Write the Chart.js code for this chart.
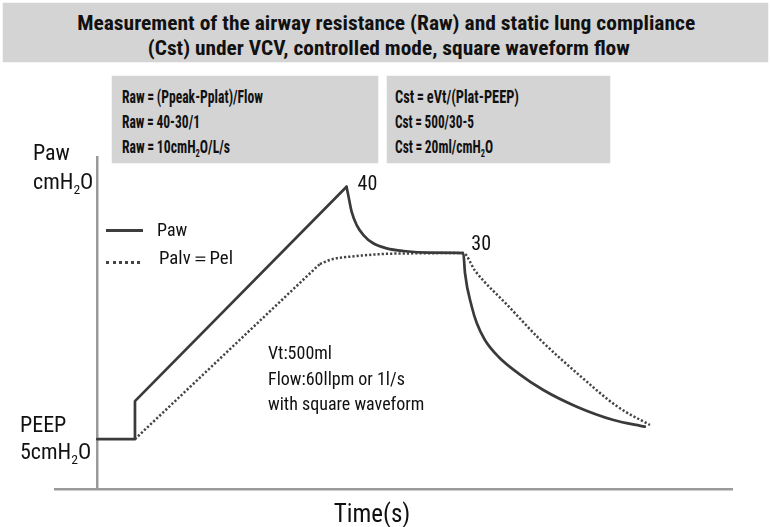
<!DOCTYPE html>
<html><head><meta charset="utf-8">
<script src="https://cdn.jsdelivr.net/npm/chart.js@4.4.1/dist/chart.umd.min.js"></script>
<style>
html,body{margin:0;padding:0;background:#fff;}
#wrap{position:relative;width:771px;height:527px;overflow:hidden;font-family:"Liberation Sans Narrow","Roboto Condensed","DejaVu Sans Condensed",Roboto,sans-serif;color:#111;}
#c{position:absolute;left:0;top:0;}
.t{position:absolute;white-space:nowrap;line-height:1;}
.b{font-weight:bold;}
.box{position:absolute;background:#d4d4d4;box-shadow:0 0 1px #bbb;}
sub{font-size:62%;vertical-align:-0.35em;line-height:0;}
.leg{position:absolute;height:0;}
</style></head>
<body><div id="wrap">
<div class="box" style="left:3px;top:3px;width:765px;height:59px;"></div>
<div class="t b fit" data-w="618" data-c="386" style="top:13px;font-size:21px;">Measurement of the airway resistance (Raw) and static lung compliance</div>
<div class="t b fit" data-w="482" data-c="389" style="top:38px;font-size:21px;">(Cst) under VCV, controlled mode, square waveform flow</div>
<div class="box" style="left:112px;top:76px;width:266px;height:87px;"></div>
<div class="box" style="left:387px;top:76px;width:223px;height:87px;"></div>
<div class="t b fit" data-w="141" style="left:122px;top:87px;font-size:19px;">Raw&#8201;=&#8201;(Ppeak-Pplat)/Flow</div>
<div class="t b fit" data-w="78" style="left:122px;top:112px;font-size:19px;">Raw&#8201;=&#8201;40-30/1</div>
<div class="t b fit" data-w="108" style="left:122px;top:137px;font-size:19px;">Raw&#8201;=&#8201;10cmH<sub>2</sub>O/L/s</div>
<div class="t b fit" data-w="124" style="left:395px;top:87px;font-size:19px;">Cst&#8201;=&#8201;eVt/(Plat-PEEP)</div>
<div class="t b fit" data-w="79" style="left:395px;top:112px;font-size:19px;">Cst&#8201;=&#8201;500/30-5</div>
<div class="t b fit" data-w="98" style="left:395px;top:137px;font-size:19px;">Cst&#8201;=&#8201;20ml/cmH<sub>2</sub>O</div>
<canvas id="c" width="771" height="527"></canvas>
<div class="t" style="left:33px;top:142px;font-size:22px;">Paw</div>
<div class="t" style="left:33px;top:171px;font-size:22px;">cmH<sub>2</sub>O</div>
<div class="t" style="left:20px;top:414px;font-size:22px;">PEEP</div>
<div class="t" style="left:20px;top:441px;font-size:22px;">5cmH<sub>2</sub>O</div>
<div class="t" style="left:0;width:744px;top:501px;text-align:center;font-size:25px;">Time(s)</div>
<div class="leg" style="left:106px;top:229px;width:37px;border-top:3px solid #3d3d3d;"></div>
<div class="leg" style="left:106px;top:261px;width:34px;border-top:3px dotted #444;"></div>
<div class="t" id="leg1" style="left:157px;top:221px;font-size:18px;"></div>
<div class="t fit" id="leg2" data-w="74" style="left:159px;top:249px;font-size:18px;"></div>
<div class="t" style="left:268px;top:340px;font-size:18px;line-height:25.5px;">Vt:500ml<br>Flow:60llpm or 1l/s<br>with square waveform</div>
</div>
<script>
// Series names
const seriesNames = ["Paw", "Palv＝Pel"];
// Airway pressure (Paw): time in s, pressure in cmH2O
const pawTime   = [0, 0.089, 0.089, 0.589, 0.593, 0.601, 0.613, 0.629, 0.652, 0.684, 0.723, 0.786, 0.865,
                   0.869, 0.885, 0.897, 0.916, 0.948, 0.995, 1.054, 1.133, 1.22, 1.294];
const pawValues = [5, 5, 10.1, 38.9, 37.8, 35.55, 33.76, 32.42, 31.31, 30.63, 30.27, 30.05, 30,
                   27.28, 22.79, 20.56, 18.32, 16.07, 13.84, 11.6, 9.36, 7.57, 6.67];
// Alveolar pressure (Palv = Pel)
const palvTime   = [0.089, 0.526, 0.557, 0.597, 0.675, 0.755, 0.865, 0.893, 0.971, 1.046, 1.137, 1.231, 1.306];
const palvValues = [5, 28.53, 29.2, 29.51, 29.87, 29.96, 30, 27.6, 22.9, 18.4, 13.7, 9.3, 6.9];
// Point labels
const peakLabel = "40";
const plateauLabel = "30";

document.getElementById('leg1').textContent = seriesNames[0];
document.getElementById('leg2').textContent = seriesNames[1];

// fit text widths
document.querySelectorAll('.fit').forEach(el => {
  const w = el.getBoundingClientRect().width;
  const target = +el.dataset.w;
  const s = target / w;
  if (el.dataset.c) {
    el.style.left = (+el.dataset.c - w / 2) + 'px';
    el.style.transformOrigin = '50% 50%';
  } else {
    el.style.transformOrigin = '0 50%';
  }
  el.style.transform = 'scaleX(' + s.toFixed(4) + ')';
});

const toPts = (t, v, a, b) => t.slice(a, b).map((x, i) => ({x: x, y: v[a + i]}));
const FONT = '"Liberation Sans Narrow","Roboto Condensed","DejaVu Sans Condensed",Roboto,sans-serif';
const pk = pawValues.indexOf(Math.max(...pawValues));
const pl = pawValues.indexOf(30);
const pvk = 1; // end of straight rise of Palv

const labelPlugin = {
  id: 'pointLabels',
  afterDatasetsDraw(chart) {
    const ctx = chart.ctx, xs = chart.scales.x, ys = chart.scales.y;
    ctx.save();
    ctx.fillStyle = '#111';
    ctx.font = '20px ' + FONT;
    ctx.textBaseline = 'middle';
    ctx.fillText(peakLabel, xs.getPixelForValue(pawTime[pk]) + 11, ys.getPixelForValue(pawValues[pk]) - 2);
    ctx.fillText(plateauLabel, xs.getPixelForValue(pawTime[pl]) + 8, ys.getPixelForValue(pawValues[pl]) - 8);
    ctx.restore();
  }
};

const solid = {borderColor: '#3a3a3a', borderWidth: 2.7, pointRadius: 0, borderJoinStyle: 'round', borderCapStyle: 'round'};
const dotted = {borderColor: '#444', borderWidth: 2.5, borderDash: [2.2, 2], pointRadius: 0};

new Chart(document.getElementById('c'), {
  type: 'line',
  data: {
    datasets: [
      Object.assign({label: seriesNames[0], data: toPts(pawTime, pawValues, 0, pk + 1), tension: 0}, solid),
      Object.assign({label: seriesNames[0], data: toPts(pawTime, pawValues, pk, pawTime.length), cubicInterpolationMode: 'monotone'}, solid),
      Object.assign({label: seriesNames[1], data: toPts(palvTime, palvValues, 0, pvk + 1), tension: 0}, dotted),
      Object.assign({label: seriesNames[1], data: toPts(palvTime, palvValues, pvk, palvTime.length), cubicInterpolationMode: 'monotone'}, dotted)
    ]
  },
  options: {
    responsive: false, animation: false, devicePixelRatio: 1,
    layout: {padding: {left: 55, right: 39, top: 157, bottom: 38}},
    plugins: {legend: {display: false}, tooltip: {enabled: false}},
    scales: {
      x: {type: 'linear', min: -0.1, max: 1.5, grid: {display: false}, ticks: {display: false},
          border: {display: true, color: '#9a9a9a', width: 2.5},
          afterFit: s => { s.height = 0; }},
      y: {type: 'linear', min: -1.7, max: 42.9, position: {x: 0}, grid: {display: false}, ticks: {display: false},
          border: {display: true, color: '#9a9a9a', width: 2.5},
          afterFit: s => { s.width = 0; }}
    }
  },
  plugins: [labelPlugin]
});
</script>
</body></html>
